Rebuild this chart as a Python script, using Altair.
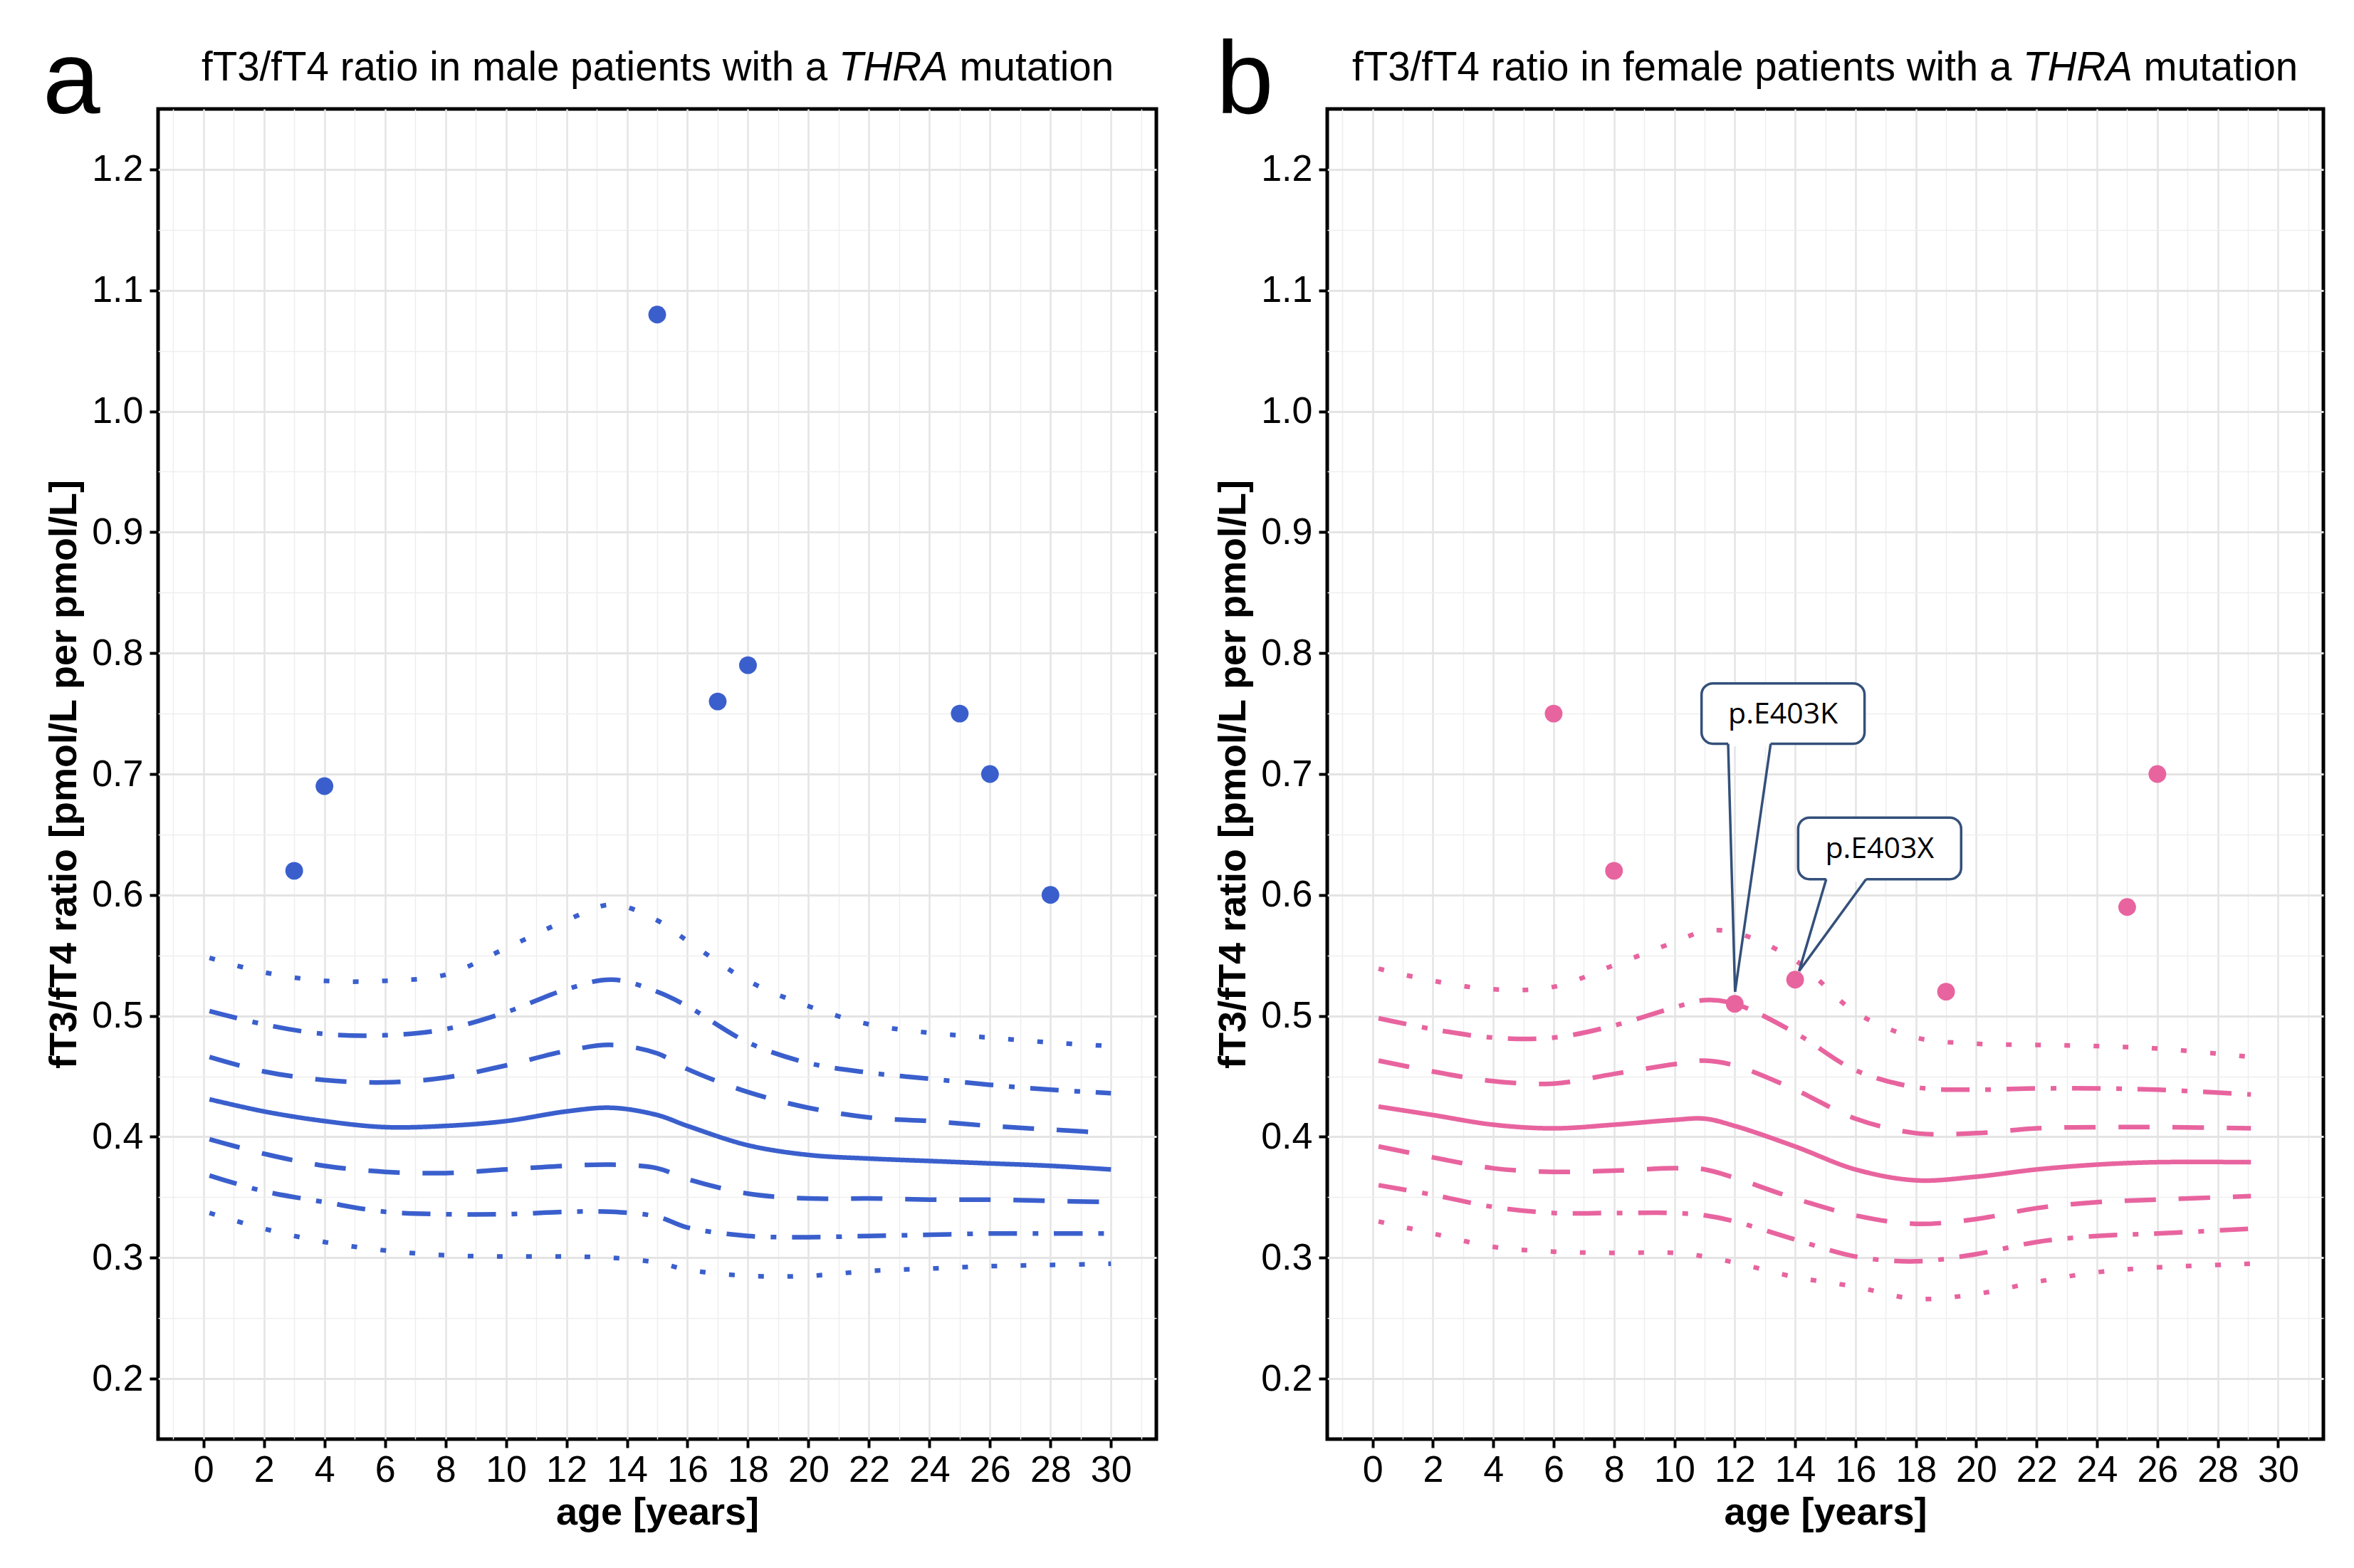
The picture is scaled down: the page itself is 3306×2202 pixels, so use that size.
import altair as alt
import pandas as pd

# ---------------- data ----------------
curve_names = ["low_dotted", "low_dotdash", "low_dashed", "median",
               "up_dashed", "up_dotdash", "up_dotted"]
curve_styles = ["dotted", "dotdash", "dashed", "solid", "dashed", "dotdash", "dotted"]

ages_m = [0.2, 2, 4, 6, 8, 10, 12, 13.5, 15, 16, 18, 20, 22, 24, 26, 28, 30]
m_low_dotted = [0.337, 0.324, 0.313, 0.306, 0.302, 0.301, 0.301, 0.300, 0.296, 0.290, 0.285, 0.285, 0.289, 0.291, 0.293, 0.294, 0.295]
m_low_dotdash = [0.368, 0.355, 0.346, 0.338, 0.336, 0.336, 0.338, 0.338, 0.334, 0.325, 0.318, 0.317, 0.318, 0.319, 0.320, 0.320, 0.320]
m_low_dashed = [0.398, 0.386, 0.376, 0.371, 0.370, 0.373, 0.376, 0.377, 0.374, 0.365, 0.353, 0.349, 0.349, 0.348, 0.348, 0.347, 0.346]
m_median = [0.431, 0.421, 0.413, 0.408, 0.409, 0.413, 0.421, 0.424, 0.418, 0.409, 0.393, 0.385, 0.382, 0.380, 0.378, 0.376, 0.373]
m_up_dashed = [0.466, 0.454, 0.447, 0.445, 0.449, 0.459, 0.471, 0.476, 0.469, 0.456, 0.437, 0.424, 0.416, 0.413, 0.409, 0.406, 0.403]
m_up_dotdash = [0.504, 0.493, 0.485, 0.484, 0.489, 0.503, 0.522, 0.530, 0.520, 0.508, 0.478, 0.461, 0.453, 0.448, 0.443, 0.439, 0.436]
m_up_dotted = [0.548, 0.536, 0.529, 0.529, 0.534, 0.556, 0.579, 0.592, 0.579, 0.562, 0.529, 0.508, 0.493, 0.486, 0.482, 0.478, 0.475]

ages_f = [0.2, 2, 4, 6, 8, 10, 11, 12, 14, 16, 18, 20, 22, 24, 26, 29.1]
f_low_dotted = [0.330, 0.320, 0.309, 0.305, 0.304, 0.304, 0.301, 0.296, 0.284, 0.276, 0.266, 0.270, 0.280, 0.288, 0.292, 0.295]
f_low_dotdash = [0.360, 0.352, 0.342, 0.337, 0.337, 0.337, 0.335, 0.330, 0.315, 0.301, 0.297, 0.303, 0.313, 0.318, 0.320, 0.324]
f_low_dashed = [0.392, 0.383, 0.374, 0.371, 0.372, 0.374, 0.373, 0.366, 0.349, 0.335, 0.328, 0.332, 0.341, 0.346, 0.348, 0.351]
f_median = [0.425, 0.418, 0.410, 0.407, 0.410, 0.414, 0.415, 0.409, 0.392, 0.373, 0.364, 0.367, 0.373, 0.377, 0.379, 0.379]
f_up_dashed = [0.463, 0.454, 0.446, 0.444, 0.452, 0.460, 0.463, 0.459, 0.439, 0.415, 0.403, 0.403, 0.407, 0.408, 0.408, 0.407]
f_up_dotdash = [0.498, 0.489, 0.482, 0.482, 0.492, 0.507, 0.513, 0.510, 0.486, 0.455, 0.441, 0.439, 0.440, 0.440, 0.439, 0.435]
f_up_dotted = [0.539, 0.529, 0.522, 0.524, 0.542, 0.561, 0.570, 0.569, 0.546, 0.503, 0.482, 0.477, 0.476, 0.475, 0.473, 0.466]

male_age = [3, 4, 15, 17, 18, 25, 26, 28]
male_ratio = [0.62, 0.69, 1.08, 0.76, 0.79, 0.75, 0.70, 0.60]
female_age = [6, 8, 12, 14, 19, 25, 26]
female_ratio = [0.75, 0.62, 0.51, 0.53, 0.52, 0.59, 0.70]

callout_labels = ["p.E403K", "p.E403X"]
box_x1 = [10.9, 14.1]
box_x2 = [16.3, 19.5]
box_y1 = [0.725, 0.613]
box_y2 = [0.775, 0.664]
base_left = [11.78, 15.03]
base_right = [13.19, 16.35]
tip_x = [12.01, 14.13]
tip_y = [0.520, 0.537]

x_ticks = list(range(-1, 32))
y_ticks = [0.2, 0.25, 0.3, 0.35, 0.4, 0.45, 0.5, 0.55, 0.6, 0.65, 0.7, 0.75,
           0.8, 0.85, 0.9, 0.95, 1.0, 1.05, 1.1, 1.15, 1.2]

title_prefix = ["fT3/fT4 ratio in male patients with a", "fT3/fT4 ratio in female patients with a"]
title_gene = "THRA"
title_suffix = "mutation"

MALE = "#3A5FCD"
FEMALE = "#E8649F"
NAVY = "#34507A"
FONT = "Liberation Sans"

# ---------------- helpers ----------------
xscale = alt.Scale(domain=[-1.5, 31.5], nice=False, zero=False)
yscale = alt.Scale(domain=[0.15, 1.25], nice=False, zero=False)

x_major = "datum.value % 2 === 0"
y_major = "round(datum.value * 20) % 2 === 0"

xaxis = alt.Axis(
    values=x_ticks, labelExpr=f"{x_major} ? datum.label : ''",
    grid=True,
    gridColor={"condition": {"test": x_major, "value": "#E4E4E4"}, "value": "#EEEEEE"},
    gridWidth={"condition": {"test": x_major, "value": 2.5}, "value": 1.5},
    tickOpacity={"condition": {"test": x_major, "value": 1}, "value": 0},
    domain=False, tickColor="black", tickWidth=4, tickSize=12,
    labelFontSize=52, labelColor="black", labelPadding=6, labelFont=FONT,
    labelOverlap=False, labelFlush=False,
    titleFontSize=54, titleFontWeight="bold", titlePadding=7, titleFont=FONT, titleColor="black",
)
yaxis = alt.Axis(
    values=y_ticks, labelExpr=f"{y_major} ? format(datum.value, '.1f') : ''",
    grid=True,
    gridColor={"condition": {"test": y_major, "value": "#E4E4E4"}, "value": "#EEEEEE"},
    gridWidth={"condition": {"test": y_major, "value": 3}, "value": 1.5},
    tickOpacity={"condition": {"test": y_major, "value": 1}, "value": 0},
    domain=False, tickColor="black", tickWidth=4, tickSize=12,
    labelFontSize=52, labelColor="black", labelPadding=9, labelFont=FONT,
    labelOverlap=False, labelFlush=False,
    titleFontSize=54, titleFontWeight="bold", titlePadding=11, titleFont=FONT, titleColor="black",
)
XT = "age [years]"
YT = "fT3/fT4 ratio [pmol/L per pmol/L]"


def X(f):
    return alt.X(f, type="quantitative", scale=xscale, axis=xaxis, title=XT)


def Y(f):
    return alt.Y(f, type="quantitative", scale=yscale, axis=yaxis, title=YT)


dash_scale = alt.Scale(domain=["solid", "dashed", "dotdash", "dotted"],
                       range=[[1, 0], [44, 32], [40, 22, 8, 22], [8, 33]])


def curves_df(ages, curves):
    rows = []
    for name, style, vals in zip(curve_names, curve_styles, curves):
        for a, v in zip(ages, vals):
            rows.append({"age": a, "ratio": v, "curve": name, "style": style})
    return pd.DataFrame(rows)


def text_layer(txt, x, y, size, align="left", style="normal", weight="normal"):
    return alt.Chart(pd.DataFrame({"t": [txt]})).mark_text(
        x=x, y=y, align=align, baseline="alphabetic", fontSize=size,
        font=FONT, fontStyle=style, fontWeight=weight, color="black"
    ).encode(text="t:N")


def panel(ages, curves, pa, pr, color, prefix, letter, letter_x, t_start, width, extra=None):
    lines = alt.Chart(curves_df(ages, curves)).mark_line(
        strokeWidth=6.5, interpolate="catmull-rom", color=color, strokeCap="butt"
    ).encode(
        x=X("age"), y=Y("ratio"), detail="curve:N",
        strokeDash=alt.StrokeDash("style:N", scale=dash_scale, legend=None),
    )
    pts = alt.Chart(pd.DataFrame({"age": pa, "ratio": pr})).mark_circle(
        size=620, color=color, opacity=1
    ).encode(x=X("age"), y=Y("ratio"))
    fs = 56.5
    pref_w = (16.396 if "female" in prefix else 15.562) * fs
    space = 0.278 * fs
    gene_x = t_start + pref_w + space
    suffix_x = gene_x + 2.722 * fs + space
    layers = [lines, pts]
    if extra:
        layers += extra
    layers += [
        text_layer(prefix, gene_x - space, -40, fs, align="right"),
        text_layer(title_gene, gene_x, -40, fs, style="italic"),
        text_layer(title_suffix, suffix_x, -40, fs),
        text_layer(letter, letter_x, 6, 145),
    ]
    return alt.layer(*layers).properties(width=width, height=1868)


# callouts for female panel
cdf = pd.DataFrame({
    "label": callout_labels, "x1": box_x1, "x2": box_x2, "y1": box_y1, "y2": box_y2,
    "bl": base_left, "br": base_right, "tx": tip_x, "ty": tip_y,
})
cdf["cx"] = (cdf["x1"] + cdf["x2"]) / 2
cdf["cy"] = (cdf["y1"] + cdf["y2"]) / 2
edges = pd.concat([
    pd.DataFrame({"xs": cdf["bl"], "ys": cdf["y1"], "xe": cdf["tx"], "ye": cdf["ty"]}),
    pd.DataFrame({"xs": cdf["br"], "ys": cdf["y1"], "xe": cdf["tx"], "ye": cdf["ty"]}),
], ignore_index=True)

boxes = alt.Chart(cdf).mark_rect(
    fill="white", stroke=NAVY, strokeWidth=3.5, cornerRadius=16
).encode(x=X("x1"), x2="x2:Q", y=Y("y1"), y2="y2:Q")
erase = alt.Chart(cdf).mark_rule(color="white", strokeWidth=7).encode(
    x=X("bl"), x2="br:Q", y=Y("y1"))
pointer = alt.Chart(edges).mark_rule(color=NAVY, strokeWidth=3.5).encode(
    x=X("xs"), y=Y("ys"), x2="xe:Q", y2="ye:Q")
ctext = alt.Chart(cdf).mark_text(
    font="Open Sans", fontSize=41, color="black", baseline="middle", align="center", dy=2
).encode(x=X("cx"), y=Y("cy"), text="label:N")

left = panel(ages_m,
             [m_low_dotted, m_low_dotdash, m_low_dashed, m_median, m_up_dashed, m_up_dotdash, m_up_dotted],
             male_age, male_ratio, MALE, title_prefix[0], "a", -162, 61, 1402)
right = panel(ages_f,
              [f_low_dotted, f_low_dotdash, f_low_dashed, f_median, f_up_dashed, f_up_dotdash, f_up_dotted],
              female_age, female_ratio, FEMALE, title_prefix[1], "b", -156, 35, 1399,
              extra=[boxes, erase, pointer, ctext])

chart = alt.hconcat(left, right, spacing=240, bounds="flush").properties(
    padding={"left": 49, "top": 32, "right": 10, "bottom": 10}
).configure(
    font=FONT, background="white",
    view=alt.ViewConfig(stroke="black", strokeWidth=5),
)

chart.save("out.html", embed_options={"renderer": "svg", "actions": False})
